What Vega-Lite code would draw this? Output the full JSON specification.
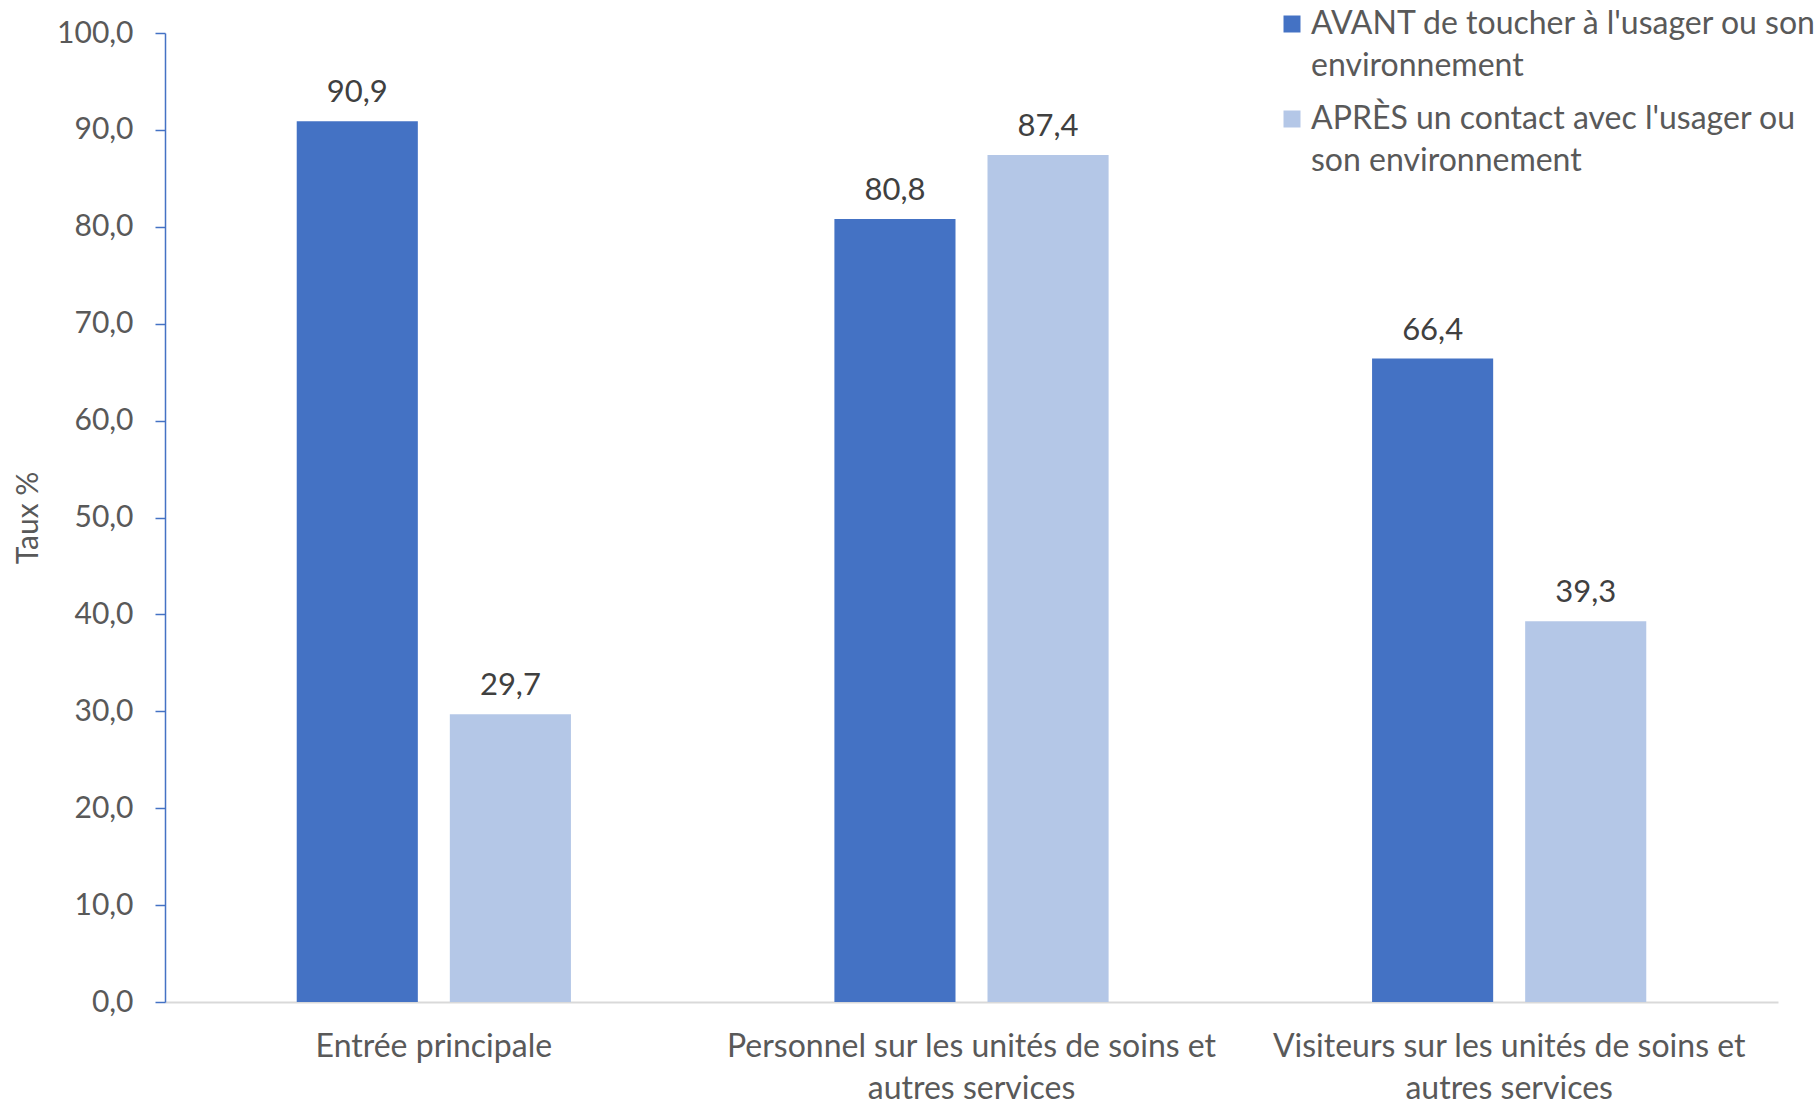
{
  "$schema": "https://vega.github.io/schema/vega-lite/v6.json",
  "width": 1613,
  "height": 969,
  "autosize": {"type": "none"},
  "padding": {"left": 165, "top": 33, "right": 42, "bottom": 103},
  "config": {
    "view": {"stroke": null},
    "font": "Lato",
    "style": {"guide-label": {"lineHeight": 42}},
    "locale": {"number": {"decimal": ",", "thousands": " ", "grouping": [3], "currency": ["", " €"]}}
  },
  "data": {
    "values": [
      {"lieu": "Entrée principale", "moment": "AVANT de toucher à l'usager ou son environnement", "taux": 90.9},
      {"lieu": "Entrée principale", "moment": "APRÈS un contact avec l'usager ou son environnement", "taux": 29.7},
      {"lieu": "Personnel sur les unités de soins et autres services", "moment": "AVANT de toucher à l'usager ou son environnement", "taux": 80.8},
      {"lieu": "Personnel sur les unités de soins et autres services", "moment": "APRÈS un contact avec l'usager ou son environnement", "taux": 87.4},
      {"lieu": "Visiteurs sur les unités de soins et autres services", "moment": "AVANT de toucher à l'usager ou son environnement", "taux": 66.4},
      {"lieu": "Visiteurs sur les unités de soins et autres services", "moment": "APRÈS un contact avec l'usager ou son environnement", "taux": 39.3}
    ]
  },
  "encoding": {
    "x": {
      "field": "lieu", "type": "nominal", "sort": null,
      "scale": {"paddingInner": 0.49, "paddingOuter": 0.245},
      "axis": {
        "title": null, "labelAngle": 0, "ticks": false,
        "domainColor": "#D9D9D9", "domainWidth": 2,
        "labelFontSize": 32, "labelColor": "#595959", "labelPadding": 29,
        "labelLineHeight": 42, "labelBaseline": "top", "labelLimit": 1000,
        "labelExpr": "split(replace(datum.label, ' et autres', ' et\\nautres'), '\\n')"
      }
    },
    "xOffset": {
      "field": "moment", "type": "nominal", "sort": null,
      "scale": {"paddingInner": 0.209, "paddingOuter": 0}
    },
    "y": {
      "field": "taux", "type": "quantitative",
      "scale": {"domain": [0, 100]},
      "axis": {
        "title": "Taux %", "titleFontSize": 30, "titleFontWeight": "normal", "titleColor": "#595959",
        "titleX": -137, "titleBaseline": "middle",
        "values": [0, 10, 20, 30, 40, 50, 60, 70, 80, 90, 100],
        "format": ".1f", "grid": false,
        "domainColor": "#4472C4", "domainWidth": 1.5,
        "tickColor": "#4472C4", "tickSize": 10, "tickWidth": 1.5,
        "labelFontSize": 30, "labelColor": "#595959", "labelPadding": 22, "labelLineHeight": 30
      }
    }
  },
  "layer": [
    {
      "mark": {"type": "bar"},
      "encoding": {
        "color": {
          "field": "moment", "type": "nominal", "sort": null,
          "scale": {"range": ["#4472C4", "#B4C7E7"]},
          "legend": {
            "title": null, "orient": "none", "legendX": 1111, "legendY": -25,
            "symbolType": "square", "symbolSize": 289, "symbolStrokeWidth": 0,
            "labelFontSize": 32, "labelColor": "#595959",
            "labelLimit": 1000, "labelOffset": 3, "rowPadding": 21,
            "labelExpr": "datum.label == \"AVANT de toucher à l'usager ou son environnement\" ? [\"AVANT de toucher à l'usager ou son\", \"environnement\"] : [\"APRÈS un contact avec l'usager ou\", \"son environnement\"]"
          }
        }
      }
    },
    {
      "mark": {"type": "text", "dy": -19, "baseline": "alphabetic", "fontSize": 31, "color": "#404040"},
      "encoding": {
        "text": {"field": "taux", "type": "quantitative", "format": ".1f"}
      }
    }
  ]
}
